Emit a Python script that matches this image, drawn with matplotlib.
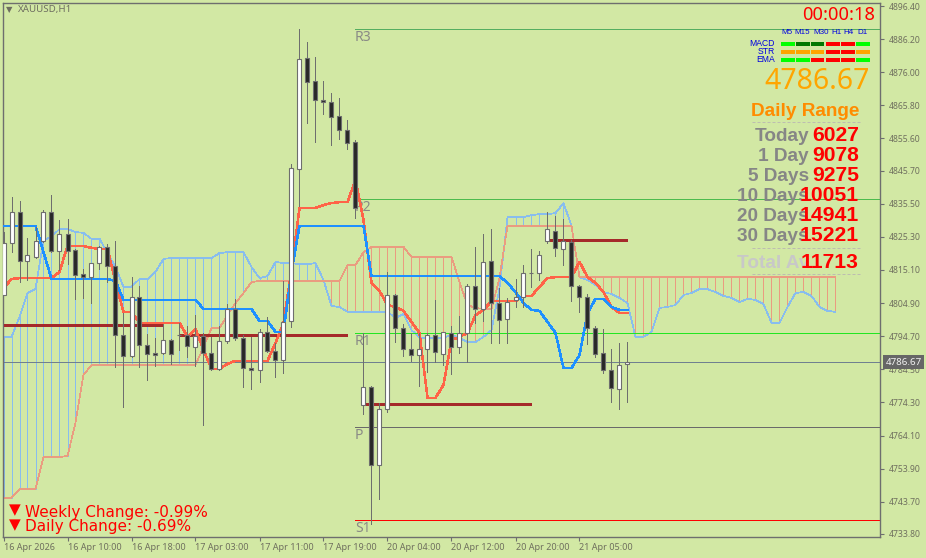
import matplotlib
matplotlib.use('Agg')
import matplotlib.pyplot as plt
from matplotlib.patches import Rectangle

# candles, oldest first
open_ = [4807.4, 4823.4, 4833.0, 4817.9, 4819.1, 4824.0, 4833.0, 4820.9, 4826.2, 4821.3,
         4813.9, 4812.9, 4817.2, 4822.2, 4816.3, 4795.1, 4788.6, 4806.8, 4792.0, 4789.5,
         4789.5, 4793.5, 4795.1, 4795.1, 4791.4, 4794.8, 4789.5, 4784.6, 4793.2, 4803.1,
         4794.2, 4784.9, 4784.3, 4796.0, 4790.1, 4787.4, 4799.4, 4846.2, 4880.4, 4873.3,
         4867.5, 4866.8, 4862.5, 4858.2, 4854.5, 4773.5, 4779.1, 4755.0, 4772.3, 4807.4,
         4797.2, 4790.8, 4788.9, 4790.8, 4795.1, 4789.2, 4795.7, 4791.4, 4795.7, 4810.2,
         4803.1, 4817.9, 4804.9, 4800.0, 4805.9, 4806.8, 4814.2, 4814.2, 4824.0, 4827.1,
         4821.6, 4823.7, 4810.2, 4806.8, 4797.2, 4789.5, 4784.3, 4778.4, 4786.2]
high = [4826.8, 4837.6, 4836.3, 4825.0, 4828.4, 4833.6, 4838.2, 4830.5, 4830.8, 4821.6,
        4815.4, 4817.2, 4822.5, 4823.1, 4824.0, 4801.8, 4812.9, 4810.2, 4795.4, 4794.2,
        4798.5, 4793.8, 4798.8, 4797.8, 4801.2, 4795.7, 4794.5, 4797.8, 4804.6, 4806.2,
        4795.1, 4794.5, 4796.9, 4800.6, 4792.6, 4811.7, 4847.7, 4889.3, 4885.3, 4880.7,
        4873.3, 4869.6, 4868.1, 4861.3, 4855.1, 4795.7, 4779.4, 4774.1, 4814.5, 4807.7,
        4798.5, 4795.7, 4795.7, 4795.7, 4805.9, 4796.0, 4797.8, 4800.9, 4810.8, 4822.2,
        4826.2, 4827.7, 4809.5, 4806.5, 4812.3, 4816.6, 4821.6, 4820.9, 4833.0, 4831.7,
        4830.8, 4824.3, 4810.5, 4807.7, 4797.8, 4796.9, 4790.8, 4792.6, 4792.9]
low = [4807.4, 4820.6, 4811.4, 4812.0, 4818.8, 4823.7, 4820.6, 4815.1, 4816.9, 4806.2,
       4806.5, 4804.9, 4815.4, 4811.4, 4785.2, 4772.9, 4788.3, 4785.2, 4781.2, 4785.5,
       4789.2, 4786.2, 4790.5, 4788.3, 4785.5, 4767.4, 4784.3, 4784.3, 4792.6, 4793.5,
       4779.1, 4778.4, 4780.6, 4789.8, 4782.1, 4783.4, 4797.5, 4834.8, 4860.4, 4854.5,
       4863.2, 4853.6, 4855.4, 4852.4, 4831.1, 4770.8, 4736.9, 4744.6, 4771.4, 4792.9,
       4788.6, 4787.1, 4779.4, 4783.7, 4786.8, 4785.8, 4783.1, 4789.5, 4786.8, 4798.8,
       4799.4, 4792.6, 4792.6, 4792.6, 4803.7, 4803.7, 4809.9, 4812.0, 4823.4, 4819.4,
       4816.6, 4805.5, 4802.2, 4792.3, 4788.3, 4783.4, 4774.4, 4772.3, 4774.4]
close = [4823.4, 4833.0, 4817.9, 4819.7, 4824.0, 4833.0, 4820.9, 4826.2, 4820.9, 4813.6,
         4812.9, 4817.2, 4822.2, 4816.3, 4795.1, 4788.6, 4806.8, 4792.0, 4789.2, 4788.9,
         4793.5, 4789.2, 4795.1, 4791.7, 4794.8, 4789.5, 4784.6, 4793.2, 4803.1, 4794.2,
         4784.9, 4784.3, 4796.0, 4790.1, 4787.4, 4799.1, 4846.5, 4880.1, 4873.0, 4867.5,
         4866.8, 4862.2, 4858.2, 4854.2, 4834.2, 4779.1, 4755.0, 4772.3, 4807.4, 4797.2,
         4790.8, 4788.9, 4790.8, 4795.1, 4789.8, 4796.0, 4791.4, 4795.7, 4810.2, 4803.1,
         4817.6, 4804.9, 4799.7, 4805.2, 4806.8, 4814.2, 4814.2, 4819.7, 4827.7, 4821.9,
         4824.0, 4810.2, 4806.8, 4797.2, 4789.2, 4784.3, 4778.8, 4785.8, 4786.67]

tenkan = [4809.5, 4812.3, 4812.6, 4812.6, 4812.6, 4812.6, 4812.6, 4814.5, 4822.5, 4822.5,
          4822.5, 4821.9, 4821.6, 4821.6, 4811.4, 4802.2, 4802.2, 4798.8, 4798.8, 4798.8,
          4798.8, 4798.8, 4798.8, 4794.5, 4796.9, 4790.5, 4784.6, 4784.6, 4786.2, 4787.1,
          4787.1, 4787.1, 4787.1, 4787.1, 4792.6, 4798.8, 4815.1, 4834.2, 4834.2, 4834.2,
          4835.1, 4835.7, 4836.0, 4836.0, 4842.8, 4830.5, 4811.1, 4808.6, 4804.3, 4803.7,
          4802.5, 4799.1, 4795.7, 4775.7, 4775.7, 4779.7, 4793.5, 4794.5, 4795.7, 4801.2,
          4802.8, 4805.5, 4805.5, 4805.5, 4805.5, 4807.1, 4807.1, 4809.9, 4812.6, 4812.9,
          4812.9, 4812.9, 4817.6, 4812.9, 4811.1, 4808.3, 4803.7, 4801.8, 4801.8]
kijun = [4828.7, 4828.7, 4828.7, 4828.7, 4828.7, 4820.6, 4812.3, 4812.3, 4812.3, 4812.3,
         4812.3, 4812.3, 4812.3, 4812.3, 4811.7, 4805.9, 4805.9, 4805.9, 4805.9, 4805.9,
         4805.9, 4805.9, 4805.9, 4805.9, 4805.9, 4803.1, 4803.1, 4803.1, 4803.1, 4803.1,
         4803.1, 4803.1, 4799.4, 4799.4, 4796.0, 4796.0, 4814.5, 4828.7, 4828.7, 4828.7,
         4828.7, 4828.7, 4828.7, 4828.7, 4828.7, 4828.7, 4813.2, 4813.2, 4813.2, 4813.2,
         4813.2, 4813.2, 4813.2, 4813.2, 4813.2, 4813.2, 4813.2, 4813.2, 4813.2, 4813.2,
         4813.2, 4813.2, 4813.2, 4811.1, 4808.3, 4804.9, 4802.8, 4802.5, 4799.1, 4795.7,
         4784.9, 4784.9, 4788.9, 4801.8, 4806.2, 4806.2, 4803.7, 4802.8, 4802.8]
span_a = [4794.5, 4794.5, 4800.6, 4808.0, 4809.2, 4824.3, 4825.3, 4827.7, 4827.7, 4826.8,
          4826.5, 4824.7, 4824.7, 4820.3, 4816.0, 4809.9, 4809.9, 4812.3, 4812.3, 4814.5,
          4818.5, 4818.8, 4818.8, 4818.8, 4818.8, 4818.8, 4818.8, 4820.3, 4820.6, 4820.6,
          4820.6, 4816.0, 4812.6, 4813.2, 4817.6, 4817.2, 4817.2, 4816.9, 4816.9, 4817.2,
          4812.0, 4804.0, 4803.7, 4802.2, 4802.2, 4802.2, 4802.2, 4802.2, 4802.2, 4800.3,
          4801.5, 4796.6, 4794.2, 4794.2, 4794.2, 4794.2, 4795.1, 4794.2, 4792.9, 4792.9,
          4794.5, 4796.6, 4809.5, 4831.4, 4831.4, 4831.4, 4832.0, 4832.3, 4832.3, 4832.6,
          4835.7, 4828.7, 4812.9, 4812.0, 4810.5, 4808.3, 4807.7, 4806.5, 4804.9, 4794.5,
          4794.5, 4796.0, 4803.4, 4803.7, 4804.3, 4807.4, 4808.0, 4809.2, 4809.2, 4808.3,
          4807.1, 4806.5, 4805.2, 4806.2, 4805.9, 4804.6, 4798.8, 4798.8, 4803.7, 4808.0,
          4808.3, 4807.1, 4803.7, 4802.5, 4802.2]
span_b = [4744.9, 4744.9, 4747.6, 4747.6, 4747.6, 4757.5, 4757.5, 4757.5, 4757.8, 4768.0,
          4782.8, 4785.8, 4785.8, 4785.8, 4785.8, 4785.8, 4785.8, 4785.8, 4785.8, 4785.8,
          4785.8, 4785.8, 4785.8, 4785.8, 4785.8, 4791.4, 4797.2, 4797.2, 4801.2, 4804.9,
          4808.0, 4811.4, 4811.7, 4811.7, 4811.7, 4811.7, 4811.7, 4811.7, 4811.7, 4811.7,
          4811.7, 4811.7, 4811.7, 4816.6, 4816.6, 4820.6, 4822.2, 4822.2, 4822.2, 4822.2,
          4822.2, 4819.1, 4819.1, 4819.1, 4819.1, 4819.1, 4819.1, 4811.4, 4804.3, 4803.4,
          4803.1, 4803.1, 4812.6, 4828.7, 4828.7, 4828.7, 4828.7, 4828.7, 4828.7, 4828.7,
          4828.7, 4828.7, 4812.9, 4812.9, 4812.9, 4812.9, 4812.9, 4812.9, 4812.9, 4812.9,
          4812.9, 4812.9, 4812.9, 4812.9, 4812.9, 4812.9, 4812.9, 4812.9, 4812.9, 4812.9,
          4812.9, 4812.9, 4812.9, 4812.9, 4812.9, 4812.9, 4812.9, 4812.9, 4812.9, 4812.9,
          4812.9, 4812.9, 4812.9, 4812.9, 4812.9]

pivot_names = ['R3', 'R2', 'R1', 'P', 'S1']
pivot_prices = [4889.3, 4836.9, 4795.7, 4766.6, 4738.1]
pivot_colors = ['#55AE60', '#4DBB4D', '#22E622', '#6A6A6A', '#FF0000']

# daily open lines: first bar, last bar, price
day_start = [0, 22, 45, 68]
day_end = [20, 43, 66, 78]
day_price = [4798.15, 4795.07, 4773.82, 4824.33]

y_ticks = [4896.4, 4886.2, 4876.0, 4865.8, 4855.6, 4845.7, 4835.5, 4825.3, 4815.1,
           4804.9, 4794.7, 4784.5, 4774.3, 4764.1, 4753.9, 4743.7, 4733.8]
x_ticks = [0, 8, 16, 24, 32, 40, 48, 56, 64, 72]
x_labels = ['16 Apr 2026', '16 Apr 10:00', '16 Apr 18:00', '17 Apr 03:00', '17 Apr 11:00',
            '17 Apr 19:00', '20 Apr 04:00', '20 Apr 12:00', '20 Apr 20:00', '21 Apr 05:00']
current_price = 4786.67

tf_names = ['M5', 'M15', 'M30', 'H1', 'H4', 'D1']
macd_cells = ['#00FF00', '#007800', '#007800', '#FF0000', '#FF0000', '#00FF00']
str_cells = ['#FFA500', '#FFA500', '#FFA500', '#FF0000', '#FF0000', '#FFA500']
ema_cells = ['#00FF00', '#00FF00', '#FF0000', '#FF0000', '#FF0000', '#00FF00']

range_names = ['Today', '1 Day', '5 Days', '10 Days', '20 Days', '30 Days']
range_values = ['6027', '9078', '9275', '10051', '14941', '15221']

BG = '#D2E8A4'
GRID = '#6E6E6E'
TXT = '#6F6F5E'

plt.rcParams['font.family'] = 'Noto Sans'

fig = plt.figure(figsize=(9.26, 5.58), dpi=100, facecolor=BG)
# bar i sits at pixel 3.5 + 8*i, price p at pixel (4898.25 - p) / 0.308
ax = fig.add_axes([3 / 926, 1 - 537 / 558, 877 / 926, 534 / 558], facecolor=BG)
ax.set_xlim((3 - 3.5) / 8, (880 - 3.5) / 8)
ax.set_ylim(4898.25 - 0.308 * 537, 4898.25 - 0.308 * 3)

for s in ax.spines.values():
    s.set_color(GRID)
    s.set_linewidth(1)

ax.yaxis.tick_right()
ax.set_yticks(y_ticks)
ax.set_yticklabels(['%.2f' % v for v in y_ticks], fontsize=6.2, color=TXT)
ax.set_xticks(x_ticks)
ax.set_xticklabels(x_labels, fontsize=6.5, color=TXT, ha='left')
ax.tick_params(axis='both', length=3, width=0.8, color=GRID, pad=3)
ax.tick_params(axis='x', pad=1.5)

# cloud
cloud_x = list(range(len(span_a)))
cloud_lo = [min(a, b) for a, b in zip(span_a, span_b)]
cloud_hi = [max(a, b) for a, b in zip(span_a, span_b)]
cloud_col = ['#88BDEE' if a > b else '#EA9C80' for a, b in zip(span_a, span_b)]
ax.vlines(cloud_x, cloud_lo, cloud_hi, colors=cloud_col, linewidth=0.72, snap=True, antialiased=False, zorder=1)
ax.plot(cloud_x, span_a, color='#88BDEE', lw=0.5, antialiased=False, zorder=1.5)
ax.plot(cloud_x, span_b, color='#EA9C80', lw=0.5, antialiased=False, zorder=1.5)

# pivots
for name, price, col in zip(pivot_names, pivot_prices, pivot_colors):
    ax.hlines(price, 44, ax.get_xlim()[1], color=col, lw=0.72, snap=True, antialiased=False, zorder=2)
    ax.annotate(name, (44, price), xytext=(-0.5, -0.5), textcoords='offset points',
                va='top', ha='left', fontsize=10, color='#8A8A86', zorder=2)

ax.axhline(current_price, color='#708090', lw=0.72, antialiased=False, zorder=2)

ax.hlines(day_price, day_start, day_end, color='#A52A2A', lw=2.16, snap=True, antialiased=False, zorder=3)

bars = list(range(len(close)))
ax.plot(bars, tenkan, color='#FF6347', lw=1.1, antialiased=False, zorder=3.2)
ax.plot(bars, kijun, color='#1E90FF', lw=1.1, antialiased=False, zorder=3.3)

# candles
ax.vlines(bars, low, high, colors=GRID, linewidth=0.72, snap=True, antialiased=False, zorder=4)
body_col = ['#FFFFFF' if c >= o else '#282828' for o, c in zip(open_, close)]
ax.bar(bars, [abs(c - o) for o, c in zip(open_, close)], bottom=[min(o, c) for o, c in zip(open_, close)],
       width=0.5, color=body_col, edgecolor=GRID, linewidth=0.8, zorder=5)

ax.annotate('%.2f' % current_price, (1, current_price), xycoords=('axes fraction', 'data'),
            xytext=(4, 0), textcoords='offset points', va='center', ha='left', fontsize=7,
            color='#F2F2F2', annotation_clip=False, zorder=10,
            bbox=dict(boxstyle='square,pad=0.25', fc='#666666', ec='none'))

# overlay in pixels for the panel texts
ov = fig.add_axes([0, 0, 1, 1])
ov.set_xlim(0, 926)
ov.set_ylim(558, 0)
ov.axis('off')

ov.text(6, 10, '▼', fontsize=6, color='#6E6E60', va='center', family='DejaVu Sans')
ov.text(18, 9.5, 'XAUUSD,H1', fontsize=7, color='#6E6E60', va='center')

ov.text(875, 15, '00:00:18', fontsize=13.2, color='#FF0000', ha='right', va='center')

tf_center = [787, 802, 821, 836, 848, 862]
for name, cx in zip(tf_names, tf_center):
    ov.text(cx, 33, name, fontsize=5.8, color='#0000E0', ha='center', va='center',
            family='Liberation Sans')
cell_left = [781, 796, 810.5, 826, 841, 856]
for label, cells, top in zip(['MACD', 'STR', 'EMA'], [macd_cells, str_cells, ema_cells], [42, 50, 58]):
    ov.text(775, top + 1.5, label, fontsize=6.2, color='#0000E0', ha='right', va='center',
            family='Liberation Sans')
    for left, c in zip(cell_left, cells):
        ov.add_patch(Rectangle((left, top), 13.5, 4, fc=c, ec='none'))

ov.text(870, 89, '4786.67', fontsize=20.5, color='#FFA500', ha='right', va='baseline')
ov.text(859, 116.5, 'Daily Range', fontsize=13.7, weight='bold', color='#FF8C00', ha='right',
        va='baseline', family='Liberation Sans')

for y in [121.5, 248, 273.5]:
    ov.plot([752, 860], [y, y], color='#BDBDB0', lw=0.72, dashes=(3, 2))

row_y = [141, 161, 181, 201, 221, 241]
for name, val, y in zip(range_names, range_values, row_y):
    ov.text(809, y, name, fontsize=13.7, weight='bold', color='#868686', ha='right', va='baseline',
            family='Liberation Sans', zorder=3)
    ov.text(859, y, val, fontsize=15.2, weight='bold', color='#FF0000', ha='right', va='baseline',
            family='Liberation Sans', zorder=4)
ov.text(809, 268, 'Total Av', fontsize=13.7, weight='bold', color='#C8C8C8', ha='right', va='baseline',
        family='Liberation Sans', zorder=3)
ov.text(859, 268, '11713', fontsize=15.2, weight='bold', color='#FF0000', ha='right', va='baseline',
        family='Liberation Sans', zorder=4)

ov.text(9, 510, '▼', fontsize=11, color='#FF0000', va='center', family='DejaVu Sans')
ov.text(25, 512, 'Weekly Change: -0.99%', fontsize=11, color='#FF0000', va='center', family='DejaVu Sans')
ov.text(9, 525, '▼', fontsize=11, color='#FF0000', va='center', family='DejaVu Sans')
ov.text(25, 527, 'Daily Change: -0.69%', fontsize=11, color='#FF0000', va='center', family='DejaVu Sans')

fig.savefig('out.png', dpi=100, facecolor=BG)
